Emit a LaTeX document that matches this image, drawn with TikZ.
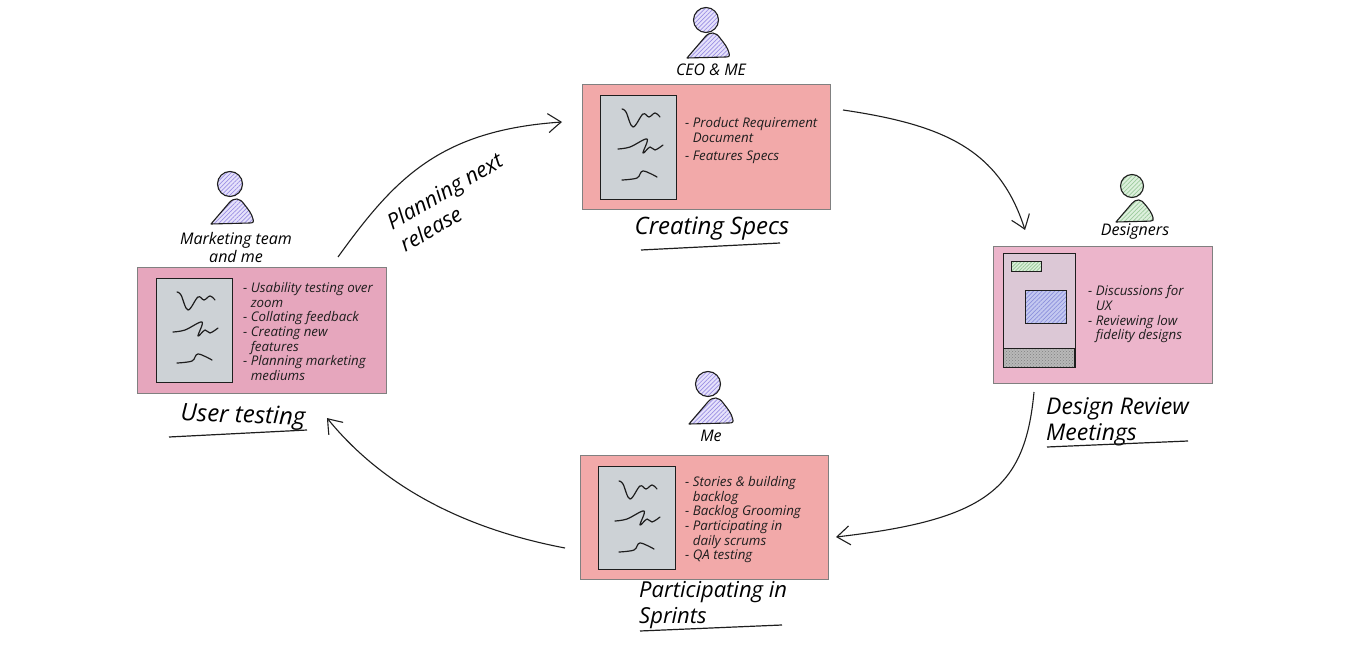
\documentclass[tikz,border=0pt]{standalone}
\usepackage{fontspec}
\setmainfont{Open Sans}
\usetikzlibrary{arrows.meta,patterns,patterns.meta,bending}
\definecolor{pinka}{HTML}{E6A6BD}
\definecolor{salmon}{HTML}{F2A9A9}
\definecolor{pinkb}{HTML}{ECB5CB}
\definecolor{docgray}{HTML}{CDD2D6}
\definecolor{docmauve}{HTML}{DCC8D6}
\definecolor{inkc}{HTML}{1E1E1E}
\definecolor{purplebg}{HTML}{E6E2FB}
\definecolor{purpleln}{HTML}{9A8FE3}
\definecolor{greenbg}{HTML}{DDF0DD}
\definecolor{greenln}{HTML}{9CCB9C}
\definecolor{bluebg}{HTML}{C3C8F0}
\definecolor{blueln}{HTML}{8C90DC}
\tikzset{
  x=1pt,y=-1pt,
  panel/.style={draw=black!50,line width=0.9pt,anchor=north west,inner sep=0pt},
  docbox/.style={draw=inkc,line width=1.2pt,fill=docgray,anchor=north west,inner sep=0pt},
  listtext/.style={anchor=north west,align=left,inner sep=0pt,text=inkc,font=\fontsize{13.3}{14.7}\selectfont\itshape},
  title/.style={anchor=center,align=left,inner sep=0pt,text=black,font=\fontsize{23}{26.5}\selectfont\itshape},
  who/.style={anchor=center,align=center,inner sep=0pt,text=black,font=\fontsize{16}{18}\selectfont\itshape},
  flow/.style={draw=inkc,line width=1.1pt,-{Straight Barb[length=13pt,width=19pt,line width=1.1pt,bend]}},
  rule/.style={draw=inkc,line width=1.2pt},
  squig/.style={draw=inkc,line width=1.2pt,line cap=round,line join=round}
}
\def\bodypath{(0,0) -- (18,-21) .. controls (23,-27) and (29,-26) .. (33,-20) .. controls (37,-15) and (41,-10) .. (42,-5) .. controls (43,-2) and (42,-1) .. (39,-1) -- cycle}
% head x, head y, radius, foot x, foot y, body scale, bg, hatch
\newcommand{\personfig}[8]{%
  \fill[#7] (#1,#2) circle[radius=#3];
  \fill[pattern={Lines[angle=45,distance=3pt,line width=0.7pt]},pattern color=#8] (#1,#2) circle[radius=#3];
  \draw[draw=inkc,line width=1.1pt] (#1,#2) circle[radius=#3];
  \begin{scope}[shift={(#4,#5)},scale=#6]
    \fill[#7] \bodypath;
    \fill[pattern={Lines[angle=45,distance=3pt,line width=0.7pt]},pattern color=#8] \bodypath;
    \draw[draw=inkc,line width=1.1pt,line join=round] \bodypath;
  \end{scope}
}
\newcommand{\squiggles}[2]{%
  \begin{scope}[shift={(#1,#2)}]
    \draw[squig] plot[smooth,tension=0.6] coordinates {(21,14)(25,17)(32,32)(42,19)(48,22)(54,18)(59,22)};
    \draw[squig] plot[smooth,tension=0.6] coordinates {(17,54)(29,52)(46,44)(42,58)(49,52)(54,55)(62,50)};
    \draw[squig] plot[smooth,tension=0.6] coordinates {(21,85)(36,83)(42,76)(56,82)};
  \end{scope}
}
\begin{document}
\begin{tikzpicture}
\useasboundingbox (0,0) rectangle (1350,650);
\fill[white] (0,0) rectangle (1350,650);

% panels
\node[panel,fill=pinka,minimum width=249pt,minimum height=126pt] (usr) at (137,267) {};
\node[panel,fill=salmon,minimum width=248pt,minimum height=125pt] (spec) at (582,84) {};
\node[panel,fill=pinkb,minimum width=219pt,minimum height=137pt] (rev) at (993,246) {};
\node[panel,fill=salmon,minimum width=248pt,minimum height=124pt] (spr) at (580,455) {};

% documents
\node[docbox,minimum width=76pt,minimum height=104pt] (usrdoc) at (156,278) {};
\node[docbox,minimum width=76pt,minimum height=104pt] (specdoc) at (600,95) {};
\node[docbox,minimum width=77pt,minimum height=103pt] (sprdoc) at (598,466) {};
\node[docbox,fill=docmauve,minimum width=72pt,minimum height=114pt] (revdoc) at (1003,253) {};
\squiggles{156}{278}
\squiggles{601}{95}
\squiggles{598}{467}

% wireframe parts
\path[fill=greenbg] (1011,261) rectangle (1041,271);
\node[anchor=north west,inner sep=0pt,draw=inkc,line width=0.6pt,minimum width=30pt,minimum height=10pt,pattern={Lines[angle=45,distance=2.5pt,line width=0.9pt]},pattern color=greenln] (wfa) at (1011,261) {};
\path[fill=bluebg] (1025,290) rectangle (1066,323);
\node[anchor=north west,inner sep=0pt,draw=inkc,line width=0.7pt,minimum width=41pt,minimum height=33pt,pattern={Lines[angle=45,distance=3pt,line width=0.7pt]},pattern color=blueln] (wfb) at (1025,290) {};
\path[fill=black!28] (1003,348) rectangle (1074,367);
\node[anchor=north west,inner sep=0pt,draw=inkc,line width=1.2pt,minimum width=71pt,minimum height=19pt,pattern=crosshatch dots,pattern color=black!50] (wfc) at (1003,348) {};

% people
\personfig{230}{184}{12.5}{211}{224}{1}{purplebg}{purpleln}
\personfig{706}{20}{12.5}{687}{58}{1}{purplebg}{purpleln}
\personfig{1132}{186}{11.5}{1116}{222}{0.88}{greenbg}{greenln}
\personfig{708}{384}{12.5}{689}{424}{1.04}{purplebg}{purpleln}

% people labels
\node[who] (whousr) at (236,247) {Marketing team\\and me};
\node[who] (whospec) at (711,70) {CEO \& ME};
\node[who] (whorev) at (1135,232) {Designers};
\node[who] (whospr) at (711,436) {Me};

% lists
\node[listtext] (lusr) at (243,282) {- Usability testing over\\\phantom{- }zoom\\- Collating feedback\\- Creating new\\\phantom{- }features\\- Planning marketing\\\phantom{- }mediums};
\node[listtext] (lspec) at (685,117) {- Product Requirement\\\phantom{- }Document};
\node[listtext] (lspecb) at (685,151) {- Features Specs};
\node[listtext] (lrev) at (1088,285.5) {- Discussions for\\\phantom{- }UX\\- Reviewing low\\\phantom{- }fidelity designs};
\node[listtext] (lspr) at (685,476) {- Stories \& building\\\phantom{- }backlog\\- Backlog Grooming\\- Participating in\\\phantom{- }daily scrums\\- QA testing};

% titles
\node[title,rotate=-2,font=\fontsize{24}{27}\selectfont\itshape] (tusr) at (243,417) {User testing};
\node[title,font=\fontsize{24}{27}\selectfont\itshape] (tspec) at (712,229) {Creating Specs};
\node[title,anchor=north west] (trev) at (1046,397) {Design Review\\Meetings};
\node[title,anchor=north west,font=\fontsize{22}{26}\selectfont\itshape] (tspr) at (639,581) {Participating in\\Sprints};
\draw[rule] (169,437) -- (307,430);
\draw[rule] (641,250) -- (780,243);
\draw[rule] (1047,447) -- (1188,441);
\draw[rule] (640,631) -- (782,625);

% connectors
\coordinate (aout) at (338,257);
\coordinate (ain) at (562,122);
\coordinate (bout) at (843,110);
\coordinate (bin) at (1025,230);
\coordinate (cout) at (1034,392);
\coordinate (cin) at (836,537);
\coordinate (dout) at (565,548);
\coordinate (din) at (327,418);
\draw[flow] (aout) .. controls (395,178) and (440,130) .. (ain);
\draw[flow] (bout) .. controls (945,125) and (1000,150) .. (bin);
\draw[flow] (cout) .. controls (1025,490) and (985,520) .. (cin);
\draw[flow] (dout) .. controls (470,530) and (385,490) .. (din);

\node[title,anchor=center,align=left,rotate=30,font=\fontsize{21.5}{26}\selectfont\itshape] (plan) at (451,202) {Planning next\\release};
\end{tikzpicture}
\end{document}
